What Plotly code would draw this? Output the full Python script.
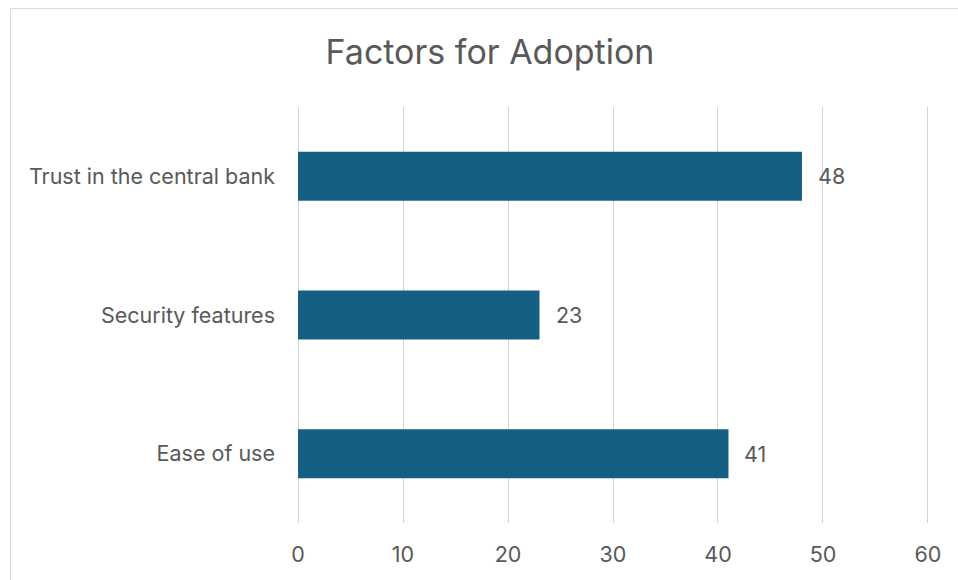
import plotly.graph_objects as go

# Survey results: factors driving adoption
categories = ["Ease of use", "Security features", "Trust in the central bank"]
values = [41, 23, 48]
tick_values = [0, 10, 20, 30, 40, 50, 60]

W, H = 958, 580
X_MIN, X_MAX = -0.1, 60.1
M_L, M_R, M_T, M_B = 297, 29, 107, 57
FONT = "Inter, Lato, sans-serif"
TEXT_COLOR = "#595959"
BAR_COLOR = "#156082"
LABEL_SIZE = 21.5

fig = go.Figure(
    go.Bar(
        x=values,
        y=categories,
        orientation="h",
        marker=dict(color=BAR_COLOR, line=dict(width=0)),
        width=0.353,
        hoverinfo="skip",
    )
)

# value labels just right of each bar end
for cat, val in zip(categories, values):
    fig.add_annotation(
        x=val, y=cat, text=str(val), showarrow=False,
        xanchor="left", yanchor="middle", xshift=14,
        font=dict(family=FONT, size=LABEL_SIZE, color=TEXT_COLOR),
    )

# outer chart frame (extends past the right and bottom edges)
pw = W - M_L - M_R
ph = H - M_T - M_B
def px_to_paper_x(px):
    return (px - M_L) / pw
def px_to_paper_y(py):
    return (H - M_B - py) / ph

fig.add_shape(
    type="rect", xref="paper", yref="paper",
    x0=px_to_paper_x(10.5), x1=px_to_paper_x(990),
    y0=px_to_paper_y(640), y1=px_to_paper_y(8.5),
    line=dict(color="#d9d9d9", width=1), fillcolor="rgba(0,0,0,0)",
    layer="below",
)

fig.update_layout(
    width=W, height=H,
    margin=dict(l=M_L, r=M_R, t=M_T, b=M_B, pad=0),
    paper_bgcolor="white", plot_bgcolor="white",
    showlegend=False,
    title=dict(
        text="Factors for Adoption",
        x=490 / W, xanchor="center",
        y=1 - 52 / H, yanchor="middle",
        font=dict(family=FONT, size=34, color=TEXT_COLOR),
    ),
    xaxis=dict(
        range=[X_MIN, X_MAX], tickvals=tick_values,
        showgrid=True, gridcolor="#d4d4d4", gridwidth=1.2,
        zeroline=False, showline=False, ticks="",
        ticklabelstandoff=16,
        tickfont=dict(family=FONT, size=LABEL_SIZE, color=TEXT_COLOR),
        fixedrange=True,
    ),
    yaxis=dict(
        categoryorder="array", categoryarray=categories,
        range=[-0.5, 2.5],
        showgrid=False, zeroline=False, showline=False, ticks="",
        ticklabelstandoff=21,
        tickfont=dict(family=FONT, size=LABEL_SIZE, color=TEXT_COLOR),
        fixedrange=True,
    ),
)

fig.write_html("out.html")
